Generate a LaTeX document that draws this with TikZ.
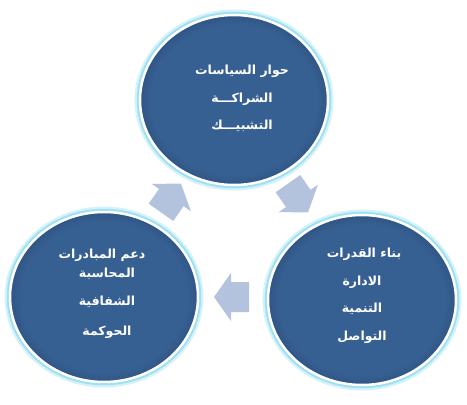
\documentclass[tikz,border=0pt]{standalone}
\usepackage{fontspec}
\newfontfamily\arabicfont[Script=Arabic,BoldFont={DejaVu Sans Bold}]{DejaVu Sans}
\TeXXeTstate=1
\usetikzlibrary{shapes.geometric}
\definecolor{cblue}{HTML}{376092}
\definecolor{cdark}{HTML}{2F5585}
\definecolor{cglow}{HTML}{9EDFF2}
\definecolor{cglowlight}{HTML}{D4F2FA}
\definecolor{carrow}{HTML}{B3C3DD}
\pgfdeclareradialshading{ballsh}{\pgfpoint{0bp}{0bp}}{color(0bp)=(cblue); color(22bp)=(cblue); color(25bp)=(cdark); color(50bp)=(cdark)}
\tikzset{
  ballglowa/.style={ellipse, minimum width=188pt, minimum height=170pt, inner sep=0pt, draw=cglowlight, line width=11pt},
  ballglowb/.style={ellipse, minimum width=188pt, minimum height=170pt, inner sep=0pt, draw=cglow, line width=6.5pt},
  ball/.style={ellipse, minimum width=188pt, minimum height=170pt, inner sep=0pt, shading=ballsh, draw=white, line width=2.5pt},
  txt/.style={text=white, font=\arabicfont\bfseries\fontsize{12.5}{14}\selectfont, inner sep=0pt},
  blockarrow/.pic={
    \fill[carrow] (-17.5,-15) -- (0.5,-15) -- (0.5,-24) -- (17.5,0) -- (0.5,24) -- (0.5,15) -- (-17.5,15) -- cycle;
  }
}
\begin{document}
\begin{tikzpicture}[x=1pt,y=-1pt]
\useasboundingbox (0,0) rectangle (467,405);
% glows
\node[ballglowa] (g1a) at (234,100) {};
\node[ballglowa] (g2a) at (362,300) {};
\node[ballglowa] (g3a) at (104,297) {};
\node[ballglowb] (g1b) at (234,100) {};
\node[ballglowb] (g2b) at (362,300) {};
\node[ballglowb] (g3b) at (104,297) {};
% circles
\node[ball] (top) at (234,100) {};
\node[ball] (right) at (362,300) {};
\node[ball] (left) at (104,297) {};
% arrows
\pic[rotate=55] (a1) at (171,198) {blockarrow};
\pic[rotate=-55] (a2) at (298,198) {blockarrow};
\pic[rotate=180] (a3) at (231.5,297) {blockarrow};
% texts top
\node[txt] (t1) at (242,71) {\beginR حوار السياسات\endR};
\node[txt] (t2) at (242,99) {\beginR الشراكـــة\endR};
\node[txt] (t3) at (242,126) {\beginR التشبيـــك\endR};
% texts right
\node[txt] (r1) at (364,254) {\beginR بناء القدرات\endR};
\node[txt] (r2) at (362,282) {\beginR الادارة\endR};
\node[txt] (r3) at (362,309) {\beginR التنمية\endR};
\node[txt] (r4) at (362,337) {\beginR التواصل\endR};
% texts left
\node[txt] (l1) at (102,255) {\beginR دعم المبادرات\endR};
\node[txt] (l2) at (107,274) {\beginR المحاسبة\endR};
\node[txt] (l3) at (107,302) {\beginR الشفافية\endR};
\node[txt] (l4) at (107,332) {\beginR الحوكمة\endR};
\end{tikzpicture}
\end{document}
